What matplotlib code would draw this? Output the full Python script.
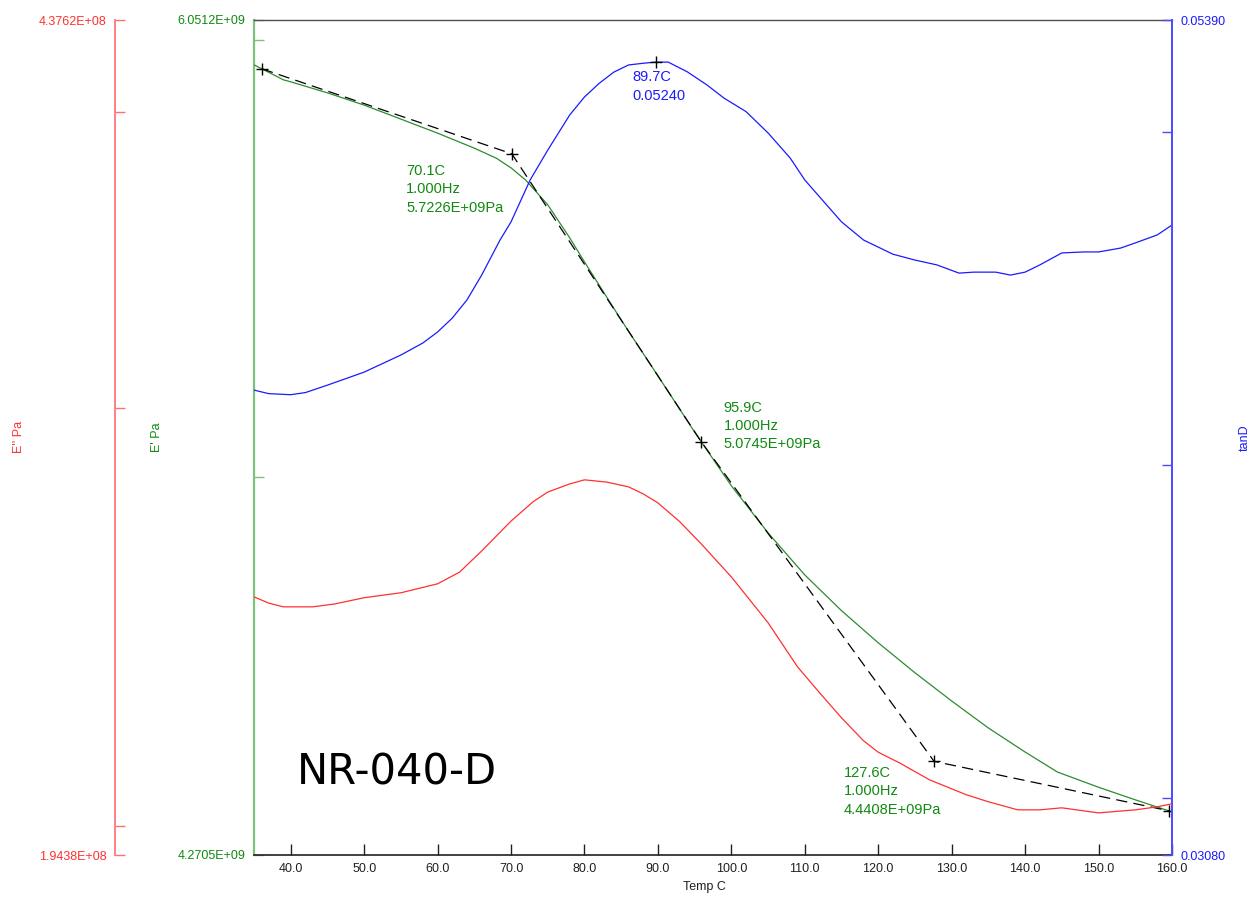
import matplotlib
matplotlib.use("Agg")
import matplotlib.pyplot as plt
from matplotlib.ticker import FixedLocator, FixedFormatter, NullLocator

# storage modulus E' (Pa)
temp_storage = [35, 39, 40, 45, 50, 55, 60, 65, 68, 70, 72, 75, 78, 80, 85, 90, 95,
                100, 105, 110, 115, 120, 125, 130, 135, 140, 144.4, 150, 155, 160]
storage_mod = [5.939e9, 5.902e9, 5.897e9, 5.870e9, 5.840e9, 5.806e9, 5.772e9, 5.736e9,
               5.712e9, 5.689e9, 5.660e9, 5.602e9, 5.525e9, 5.470e9, 5.339e9, 5.216e9,
               5.095e9, 4.982e9, 4.885e9, 4.800e9, 4.729e9, 4.666e9, 4.608e9, 4.554e9,
               4.503e9, 4.458e9, 4.421e9, 4.393e9, 4.370e9, 4.348e9]

# loss modulus E'' (Pa)
temp_loss = [35, 37, 39, 43, 46, 50, 55, 60, 63, 66, 70, 73, 75, 78, 80, 83, 86, 88,
             90, 93, 96, 100, 105, 109, 112, 115, 118, 120, 123, 127, 132, 135, 139, 142,
             145, 147, 150, 155, 158, 160]
loss_mod = [2.498e8, 2.483e8, 2.474e8, 2.474e8, 2.481e8, 2.496e8, 2.508e8, 2.530e8,
            2.559e8, 2.612e8, 2.689e8, 2.740e8, 2.766e8, 2.788e8, 2.799e8, 2.793e8,
            2.780e8, 2.761e8, 2.737e8, 2.687e8, 2.628e8, 2.547e8, 2.436e8, 2.334e8,
            2.276e8, 2.221e8, 2.172e8, 2.148e8, 2.125e8, 2.091e8, 2.061e8, 2.047e8,
            2.031e8, 2.031e8, 2.035e8, 2.031e8, 2.025e8, 2.031e8, 2.037e8, 2.043e8]

# tan delta
temp_tan = [35, 37, 40, 42, 45, 50, 55, 58, 60, 62, 64, 66, 68.5, 70, 72.6, 75, 78, 80,
            82, 84, 86, 88, 89.7, 91.4, 94, 96.7, 99, 102, 105, 108, 110, 113, 115, 118,
            120, 122, 125, 128, 131, 133, 136, 138, 140, 142, 145, 148, 150, 153, 155,
            158, 160]
tan_delta = [0.04206, 0.04196, 0.04193, 0.04199, 0.04220, 0.04257, 0.04306, 0.04341,
             0.04373, 0.04414, 0.04468, 0.04543, 0.04651, 0.04708, 0.04842, 0.04940,
             0.05058, 0.05119, 0.05166, 0.05205, 0.05230, 0.05236, 0.05240, 0.05240,
             0.05206, 0.05160, 0.05115, 0.05069, 0.04997, 0.04914, 0.04842, 0.04761,
             0.04708, 0.04651, 0.04629, 0.04607, 0.04589, 0.04574, 0.04549, 0.04552,
             0.04552, 0.04543, 0.04552, 0.04574, 0.04611, 0.04614, 0.04614, 0.04626,
             0.04642, 0.04667, 0.04698]

# onset construction on E'
onset_temp = [36.1, 70.1, 95.9, 127.6, 159.6]
onset_mod = [5.929e9, 5.7226e9, 5.0745e9, 4.4408e9, 4.350e9]

peak_temp = 89.7
peak_tan = 0.05240

x_ticks = [40, 50, 60, 70, 80, 90, 100, 110, 120, 130, 140, 150, 160]

GREEN = "#2e8b2e"
GREEN_TXT = "#108a10"
RED = "#ff3030"
BLUE = "#1a1aff"

plt.rcParams["font.family"] = ["Liberation Sans", "DejaVu Sans"]

W, H = 1257, 897
fig = plt.figure(figsize=(W / 100, H / 100), dpi=100)
ax = fig.add_axes([254 / W, 1 - 855 / H, 918 / W, 835 / H])
tax = ax.twinx()
rax = ax.twinx()


def log_axis(a, lo, hi, ticks, lo_txt, hi_txt, color, side):
    a.set_yscale("log")
    a.set_ylim(lo, hi)
    locs = [lo] + ticks + [hi]
    labels = [lo_txt] + [""] * len(ticks) + [hi_txt]
    a.yaxis.set_major_locator(FixedLocator(locs))
    a.yaxis.set_major_formatter(FixedFormatter(labels))
    a.yaxis.set_minor_locator(NullLocator())
    a.tick_params(axis="y", which="major", direction="in", length=7, width=1,
                  color=color, labelcolor=color, labelsize=9, pad=6)
    a.yaxis.set_ticks_position(side)


log_axis(ax, 4.2705e9, 6.0512e9, [5e9, 6e9], "4.2705E+09", "6.0512E+09", GREEN_TXT, "left")
log_axis(tax, 0.03080, 0.05390, [0.032, 0.04, 0.05], "0.03080", "0.05390", BLUE, "right")
log_axis(rax, 1.9438e8, 4.3762e8, [2e8, 3e8, 4e8], "1.9438E+08", "4.3762E+08", RED, "left")
ax.tick_params(axis="y", color="#7cc27c")
tax.tick_params(axis="y", color="#4a4aff")
rax.tick_params(axis="y", color="#ff7070")

# spines
ax.spines["left"].set_color("#7cc27c")
ax.spines["left"].set_linewidth(1.6)
ax.spines["right"].set_visible(False)
ax.spines["top"].set_color("#505050")
ax.spines["top"].set_linewidth(1.0)
ax.spines["bottom"].set_color("#202020")
ax.spines["bottom"].set_linewidth(1.2)
for s in ["left", "top", "bottom"]:
    tax.spines[s].set_visible(False)
tax.spines["right"].set_color("#4a4aff")
tax.spines["right"].set_linewidth(1.4)
for s in ["right", "top", "bottom"]:
    rax.spines[s].set_visible(False)
rax.spines["left"].set_visible(True)
rax.spines["left"].set_position(("axes", (115 - 254) / 918))
rax.spines["left"].set_color("#ff8080")
rax.spines["left"].set_linewidth(1.4)

ax.set_xlim(35, 160)
ax.set_xticks(x_ticks)
ax.set_xticklabels([f"{t:.1f}" for t in x_ticks])
ax.tick_params(axis="x", direction="in", length=8, width=1, color="#202020",
               labelsize=9, labelcolor="#202020", pad=6)

# curves
ax.plot(temp_storage, storage_mod, color=GREEN, lw=0.9, zorder=3)
rax.plot(temp_loss, loss_mod, color=RED, lw=0.9)
tax.plot(temp_tan, tan_delta, color=BLUE, lw=0.9)
ax.plot(onset_temp, onset_mod, color="black", lw=0.9, dashes=(9, 5), zorder=4,
        marker="+", markersize=8, markeredgewidth=1.0)
tax.plot([peak_temp], [peak_tan], marker="+", color="black", markersize=8,
         markeredgewidth=1.0, linestyle="none")

# annotations
note = dict(fontsize=10.5, color=GREEN_TXT, textcoords="offset points",
            ha="left", va="top", linespacing=1.38)
ax.annotate(f"{onset_temp[1]:.1f}C\n1.000Hz\n{onset_mod[1]:.4E}Pa",
            xy=(onset_temp[1], onset_mod[1]), xytext=(-76, -7.5), **note)
ax.annotate(f"{onset_temp[2]:.1f}C\n1.000Hz\n{onset_mod[2]:.4E}Pa",
            xy=(onset_temp[2], onset_mod[2]), xytext=(16, 29.5), **note)
ax.annotate(f"{onset_temp[3]:.1f}C\n1.000Hz\n{onset_mod[3]:.4E}Pa",
            xy=(onset_temp[3], onset_mod[3]), xytext=(-65, -3.5), **note)
tax.annotate(f"{peak_temp:.1f}C\n{peak_tan:.5f}", xy=(peak_temp, peak_tan),
             xytext=(-17, -6), fontsize=10.5, color=BLUE, textcoords="offset points",
             ha="left", va="top", linespacing=1.38)

ax.text(0.047, 0.084, "NR-040-D", transform=ax.transAxes, fontsize=30,
        family="DejaVu Sans", color="black", va="baseline", ha="left")

# axis titles
fig.text(19 / W, 1 - 437 / H, "E'' Pa", rotation=90, color=RED, fontsize=9,
         ha="center", va="center")
fig.text(157 / W, 1 - 437 / H, "E' Pa", rotation=90, color=GREEN_TXT, fontsize=9,
         ha="center", va="center")
fig.text(1245 / W, 1 - 438 / H, "tanD", rotation=90, color=BLUE, fontsize=9,
         ha="center", va="center")
fig.text(704 / W, 1 - 887 / H, "Temp C", color="#202020", fontsize=9,
         ha="center", va="center")

fig.savefig("out.png", dpi=100)
